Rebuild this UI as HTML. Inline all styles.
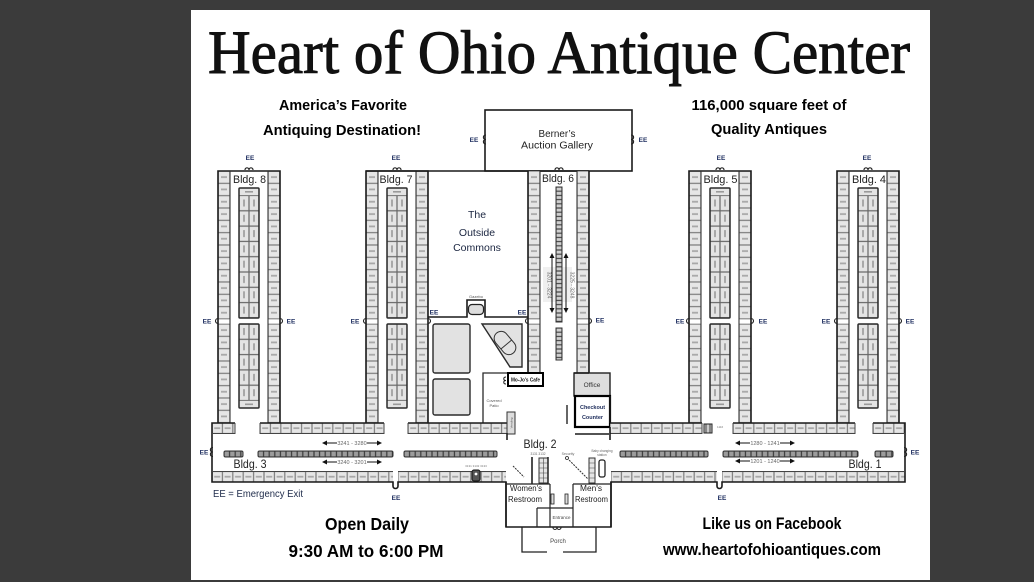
<!DOCTYPE html>
<html><head><meta charset="utf-8"><style>
html,body{margin:0;padding:0;background:#3b3b3b;width:1034px;height:582px;overflow:hidden}
svg{display:block}
</style></head><body>
<svg width="1034" height="582" viewBox="0 0 1034 582" xmlns="http://www.w3.org/2000/svg" font-family="Liberation Sans, Arial, sans-serif">
<defs>
 <pattern id="vc" width="12" height="12.33" patternUnits="userSpaceOnUse">
  <rect x="0.3" y="0.3" width="11.4" height="11.73" fill="#e6e6e6" stroke="#7a7a7a" stroke-width="0.6"/>
  <rect x="3" y="5.2" width="6" height="1.8" fill="#a8a8a8"/>
 </pattern>
 <pattern id="hc" width="10.4" height="10.5" patternUnits="userSpaceOnUse">
  <rect x="0.3" y="0.3" width="9.8" height="9.9" fill="#e6e6e6" stroke="#7a7a7a" stroke-width="0.6"/>
  <rect x="2.2" y="4.3" width="6" height="1.8" fill="#a8a8a8"/>
 </pattern>
 <pattern id="ip" width="20" height="15.3" patternUnits="userSpaceOnUse">
  <rect x="0.3" y="0.3" width="9.4" height="14.7" fill="#e4e4e4" stroke="#666" stroke-width="0.6"/>
  <rect x="10.3" y="0.3" width="9.4" height="14.7" fill="#e4e4e4" stroke="#666" stroke-width="0.6"/>
  <rect x="4.2" y="4" width="1.6" height="7" fill="#9a9a9a"/>
  <rect x="14.2" y="4" width="1.6" height="7" fill="#9a9a9a"/>
 </pattern>
 <pattern id="db" width="5.6" height="6" patternUnits="userSpaceOnUse">
  <rect x="0.3" y="0.3" width="5" height="5.4" fill="#9c9c9c" stroke="#3a3a3a" stroke-width="0.6"/>
 </pattern>
 <pattern id="sc" width="6" height="4.2" patternUnits="userSpaceOnUse">
  <rect x="0.3" y="0.3" width="5.4" height="3.6" fill="#d0d0d0" stroke="#444" stroke-width="0.6"/>
 </pattern>

 <g id="bt">
  <g transform="translate(0,171)"><rect width="12" height="148" fill="url(#vc)"/></g>
  <g transform="translate(50,171)"><rect width="12" height="148" fill="url(#vc)"/></g>
  <g transform="translate(0,324)"><rect width="12" height="99" fill="url(#vc)"/></g>
  <g transform="translate(50,324)"><rect width="12" height="99" fill="url(#vc)"/></g>
  <rect x="0" y="319" width="12" height="5" fill="#fff" stroke="#666" stroke-width="0.6"/>
  <rect x="50" y="319" width="12" height="5" fill="#fff" stroke="#666" stroke-width="0.6"/>
  <rect x="21" y="188" width="20" height="7.5" fill="#e4e4e4" stroke="#666" stroke-width="0.6"/>
  <rect x="27" y="191" width="8" height="1.6" fill="#9a9a9a"/>
  <g transform="translate(21,195.5)"><rect width="20" height="122.4" fill="url(#ip)"/></g>
  <rect x="21" y="188" width="20" height="130" fill="none" stroke="#2a2a2a" stroke-width="1.5" rx="1"/>
  <g transform="translate(21,324)"><rect width="20" height="76.5" fill="url(#ip)"/></g>
  <rect x="21" y="400.5" width="20" height="7.5" fill="#e4e4e4" stroke="#666" stroke-width="0.6"/>
  <rect x="27" y="403.5" width="8" height="1.6" fill="#9a9a9a"/>
  <rect x="21" y="324" width="20" height="84" fill="none" stroke="#2a2a2a" stroke-width="1.5" rx="1"/>
  <path d="M0,423 V171 H62 V423" fill="none" stroke="#1a1a1a" stroke-width="1.6"/>
  <path d="M12,171 V423 M50,171 V423" fill="none" stroke="#333" stroke-width="1.1"/>
  <path d="M27,170 a2,2.2 0 0 1 4,0 a2,2.2 0 0 1 4,0" fill="none" stroke="#222" stroke-width="1.2"/>
  <path d="M0,318.5 a2.5,2.5 0 0 0 0,5" fill="none" stroke="#222" stroke-width="1.1"/>
  <path d="M62,318.5 a2.5,2.5 0 0 1 0,5" fill="none" stroke="#222" stroke-width="1.1"/>
 </g>
</defs>

<rect x="0" y="0" width="1034" height="582" fill="#3b3b3b"/>
<rect x="191" y="10" width="739" height="570" fill="#ffffff"/>

<!-- Title -->
<text x="208" y="73" font-family="Liberation Serif, Times New Roman, serif" font-size="61" textLength="702" lengthAdjust="spacingAndGlyphs" fill="#111" stroke="#111" stroke-width="1">Heart of Ohio Antique Center</text>

<g font-weight="bold" fill="#000" text-anchor="middle">
 <text x="343" y="110" font-size="14.5" textLength="128" lengthAdjust="spacingAndGlyphs">America’s Favorite</text>
 <text x="342" y="135" font-size="14.5" textLength="158" lengthAdjust="spacingAndGlyphs">Antiquing Destination!</text>
 <text x="769" y="110" font-size="14.5" textLength="155" lengthAdjust="spacingAndGlyphs">116,000 square feet of</text>
 <text x="769" y="134" font-size="14.5" textLength="116" lengthAdjust="spacingAndGlyphs">Quality Antiques</text>
 <text x="367" y="530" font-size="17.5" textLength="84" lengthAdjust="spacingAndGlyphs">Open Daily</text>
 <text x="366" y="557" font-size="17.5" textLength="155" lengthAdjust="spacingAndGlyphs">9:30 AM to 6:00 PM</text>
 <text x="772" y="529" font-size="17" textLength="139" lengthAdjust="spacingAndGlyphs">Like us on Facebook</text>
 <text x="772" y="555" font-size="17" textLength="218" lengthAdjust="spacingAndGlyphs">www.heartofohioantiques.com</text>
</g>
<text x="213" y="497" font-size="10" textLength="90" lengthAdjust="spacingAndGlyphs" fill="#1e2b4a">EE = Emergency Exit</text>

<!-- Berner's -->
<rect x="485" y="110" width="147" height="61" fill="#fff" stroke="#1a1a1a" stroke-width="1.6"/>
<text x="557" y="137" font-size="10" text-anchor="middle" fill="#222" textLength="37" lengthAdjust="spacingAndGlyphs">Berner’s</text>
<text x="557" y="148.5" font-size="10" text-anchor="middle" fill="#222" textLength="72" lengthAdjust="spacingAndGlyphs">Auction Gallery</text>
<path d="M486,135 c-3.5,0 -3.5,4.5 0,4.5 c-3.5,0 -3.5,4.5 0,4.5" fill="none" stroke="#222" stroke-width="1.1"/>
<path d="M631,135 c3.5,0 3.5,4.5 0,4.5 c3.5,0 3.5,4.5 0,4.5" fill="none" stroke="#222" stroke-width="1.1"/>
<path d="M555,170 a2,2.2 0 0 1 4,0 a2,2.2 0 0 1 4,0" fill="none" stroke="#222" stroke-width="1.2"/>

<!-- Buildings 8,7,5,4 -->
<use href="#bt" x="218"/>
<use href="#bt" x="366"/>
<use href="#bt" x="689"/>
<use href="#bt" x="837"/>

<!-- long top wall across commons -->
<path d="M366,171 H589" stroke="#1a1a1a" stroke-width="1.6"/>

<!-- Bldg 6 -->
<g transform="translate(528,171)"><rect width="12" height="148" fill="url(#vc)"/></g>
<g transform="translate(577,171)"><rect width="12" height="148" fill="url(#vc)"/></g>
<g transform="translate(528,324)"><rect width="12" height="49" fill="url(#vc)"/></g>
<g transform="translate(577,324)"><rect width="12" height="49" fill="url(#vc)"/></g>
<rect x="528" y="319" width="12" height="5" fill="#fff" stroke="#666" stroke-width="0.6"/>
<rect x="577" y="319" width="12" height="5" fill="#fff" stroke="#666" stroke-width="0.6"/>
<path d="M528,373 V171 M589,171 V373" fill="none" stroke="#1a1a1a" stroke-width="1.6"/>
<path d="M540,171 V373 M577,171 V373" fill="none" stroke="#333" stroke-width="1.1"/>
<path d="M528,318.5 a2.5,2.5 0 0 0 0,5" fill="none" stroke="#222" stroke-width="1.1"/>
<path d="M589,318.5 a2.5,2.5 0 0 1 0,5" fill="none" stroke="#222" stroke-width="1.1"/>
<rect x="543" y="267" width="29" height="35" fill="#f0f0f0"/>
<g transform="translate(556,187)"><rect width="6" height="135" fill="url(#sc)"/></g>
<rect x="556" y="187" width="6" height="135" fill="none" stroke="#333" stroke-width="1"/>
<g transform="translate(556,328)"><rect width="6" height="32" fill="url(#sc)"/></g>
<rect x="556" y="328" width="6" height="32" fill="none" stroke="#333" stroke-width="1"/>
<path d="M552,257 V309 M566,257 V309" stroke="#111" stroke-width="1"/>
<polygon points="552,253 549.5,258 554.5,258" fill="#111"/>
<polygon points="552,313 549.5,308 554.5,308" fill="#111"/>
<polygon points="566,253 563.5,258 568.5,258" fill="#111"/>
<polygon points="566,313 563.5,308 568.5,308" fill="#111"/>
<text transform="translate(547.5,285) rotate(90)" font-size="5" text-anchor="middle" fill="#666">3201 - 3224</text>
<text transform="translate(570.5,285) rotate(90)" font-size="5" text-anchor="middle" fill="#666">3225 - 3248</text>

<!-- Bldg labels -->
<g font-size="11" fill="#222" text-anchor="middle">
 <text x="249.5" y="183" textLength="33" lengthAdjust="spacingAndGlyphs">Bldg. 8</text>
 <text x="396" y="183" textLength="33" lengthAdjust="spacingAndGlyphs">Bldg. 7</text>
 <text x="558" y="182" textLength="32" lengthAdjust="spacingAndGlyphs">Bldg. 6</text>
 <text x="720.5" y="183" textLength="34" lengthAdjust="spacingAndGlyphs">Bldg. 5</text>
 <text x="869" y="183" textLength="34" lengthAdjust="spacingAndGlyphs">Bldg. 4</text>
 <text x="250" y="468" font-size="12" textLength="33" lengthAdjust="spacingAndGlyphs">Bldg. 3</text>
 <text x="865" y="468" font-size="12" textLength="33" lengthAdjust="spacingAndGlyphs">Bldg. 1</text>
 <text x="540" y="448" font-size="12" textLength="33" lengthAdjust="spacingAndGlyphs">Bldg. 2</text>
</g>

<!-- Outside commons -->
<g font-size="10.5" fill="#1a2540" text-anchor="middle">
 <text x="477" y="218">The</text>
 <text x="477" y="236">Outside</text>
 <text x="477" y="251">Commons</text>
</g>
<path d="M428,317 H467 V300 H485 V317 H528" fill="none" stroke="#1a1a1a" stroke-width="1.6"/>
<rect x="468.5" y="304.5" width="15" height="10" rx="3.5" fill="#ddd" stroke="#222" stroke-width="1.2"/>
<text x="476" y="298" font-size="4" text-anchor="middle" fill="#555">Gazebo</text>
<rect x="433" y="324" width="37" height="49" rx="2" fill="#e2e2e2" stroke="#2a2a2a" stroke-width="1.4"/>
<rect x="433" y="379" width="37" height="36" rx="2" fill="#e2e2e2" stroke="#2a2a2a" stroke-width="1.4"/>
<polygon points="482,324 522,324 522,367 510,367" fill="#e2e2e2" stroke="#2a2a2a" stroke-width="1.4"/>
<g transform="translate(505,343) rotate(50)">
 <rect x="-13" y="-7" width="26" height="14" rx="7" fill="none" stroke="#333" stroke-width="1"/>
 <path d="M2,-7 V7" stroke="#333" stroke-width="1"/>
</g>
<path d="M483,423 V373 H508" fill="none" stroke="#2a2a2a" stroke-width="1.3"/>
<text x="494" y="402" font-size="4" text-anchor="middle" fill="#555">Covered</text>
<text x="494" y="407" font-size="4" text-anchor="middle" fill="#555">Patio</text>
<path d="M506,377 c-3,0 -3,3.5 0,3.5 c-3,0 -3,3.5 0,3.5" fill="none" stroke="#222" stroke-width="1"/>
<rect x="508" y="373" width="35" height="13" fill="#fff" stroke="#000" stroke-width="2"/>
<text x="525.5" y="381.5" font-size="5" font-weight="bold" text-anchor="middle" fill="#111" textLength="29" lengthAdjust="spacingAndGlyphs">Mo-Jo's Cafe</text>
<rect x="574" y="373" width="36" height="23" fill="#dedede" stroke="#222" stroke-width="1.4"/>
<text x="592" y="387" font-size="6.5" text-anchor="middle" fill="#333">Office</text>
<rect x="575" y="396" width="35" height="31" fill="#fff" stroke="#000" stroke-width="2.2"/>
<text x="592.5" y="409" font-size="5.5" font-weight="bold" text-anchor="middle" fill="#1c2b5a">Checkout</text>
<text x="592.5" y="419" font-size="5.5" font-weight="bold" text-anchor="middle" fill="#1c2b5a">Counter</text>
<path d="M589,373 H574 M610,396 V423" fill="none" stroke="#1a1a1a" stroke-width="1.4"/>

<!-- EE labels -->
<g font-size="6.5" font-weight="bold" fill="#1c2c5e" text-anchor="middle">
 <text x="250" y="160">EE</text>
 <text x="396" y="160">EE</text>
 <text x="721" y="160">EE</text>
 <text x="867" y="160">EE</text>
 <text x="474" y="142">EE</text>
 <text x="643" y="142">EE</text>
 <text x="207" y="323.5">EE</text>
 <text x="291" y="323.5">EE</text>
 <text x="355" y="323.5">EE</text>
 <text x="434" y="314.5">EE</text>
 <text x="522" y="314.5">EE</text>
 <text x="600" y="322.5">EE</text>
 <text x="680" y="323.5">EE</text>
 <text x="763" y="323.5">EE</text>
 <text x="826" y="323.5">EE</text>
 <text x="910" y="323.5">EE</text>
 <text x="204" y="454.5">EE</text>
 <text x="915" y="454.5">EE</text>
 <text x="396" y="500">EE</text>
 <text x="722" y="500">EE</text>
</g>

<!-- Hall rows Bldg 3 -->
<g transform="translate(212,423)"><rect width="23" height="10.5" fill="url(#hc)"/></g>
<g transform="translate(260,423)"><rect width="124" height="10.5" fill="url(#hc)"/></g>
<g transform="translate(408,423)"><rect width="99" height="10.5" fill="url(#hc)"/></g>
<g transform="translate(212,471.5)"><rect width="181" height="10.5" fill="url(#hc)"/></g>
<g transform="translate(398,471.5)"><rect width="108" height="10.5" fill="url(#hc)"/></g>
<!-- Hall rows Bldg 1 -->
<g transform="translate(610,423)"><rect width="92" height="10.5" fill="url(#hc)"/></g>
<g transform="translate(733,423)"><rect width="122" height="10.5" fill="url(#hc)"/></g>
<g transform="translate(873,423)"><rect width="32" height="10.5" fill="url(#hc)"/></g>
<g transform="translate(611,471.5)"><rect width="106" height="10.5" fill="url(#hc)"/></g>
<g transform="translate(722,471.5)"><rect width="183" height="10.5" fill="url(#hc)"/></g>

<!-- Hall walls -->
<path d="M235,423 H212 V482 H393 v4 a2.5,2.5 0 0 0 5,0 v-4 H506 V527 M260,423 H384 M408,423 H507" fill="none" stroke="#1a1a1a" stroke-width="1.6"/>
<path d="M611,527 V482 H717 v4 a2.5,2.5 0 0 0 5,0 v-4 H905 V423 H873 M855,423 H733 M702,423 H610" fill="none" stroke="#1a1a1a" stroke-width="1.6"/>
<path d="M212,433.5 H235 V423 M260,423 V433.5 H384 V423 M408,423 V433.5 H507 M212,471.5 H393 M398,471.5 H506 M610,433.5 H702 V423 M733,423 V433.5 H855 V423 M873,423 V433.5 H905 M611,471.5 H717 M722,471.5 H905" fill="none" stroke="#444" stroke-width="1"/>
<path d="M213,447.5 c-3.5,0 -3.5,4.5 0,4.5 c-3.5,0 -3.5,4.5 0,4.5" fill="none" stroke="#222" stroke-width="1.1"/>
<path d="M904,447.5 c3.5,0 3.5,4.5 0,4.5 c3.5,0 3.5,4.5 0,4.5" fill="none" stroke="#222" stroke-width="1.1"/>

<!-- center dark bars -->
<g transform="translate(224,451)"><rect width="19" height="6" fill="url(#db)"/></g>
<g transform="translate(258,451)"><rect width="135" height="6" fill="url(#db)"/></g>
<g transform="translate(404,451)"><rect width="93" height="6" fill="url(#db)"/></g>
<g transform="translate(620,451)"><rect width="88" height="6" fill="url(#db)"/></g>
<g transform="translate(723,451)"><rect width="135" height="6" fill="url(#db)"/></g>
<g transform="translate(875,451)"><rect width="18" height="6" fill="url(#db)"/></g>
<g fill="none" stroke="#333" stroke-width="1">
 <rect x="224" y="451" width="19" height="6" rx="1.5"/>
 <rect x="258" y="451" width="135" height="6" rx="1.5"/>
 <rect x="404" y="451" width="93" height="6" rx="1.5"/>
 <rect x="620" y="451" width="88" height="6" rx="1.5"/>
 <rect x="723" y="451" width="135" height="6" rx="1.5"/>
 <rect x="875" y="451" width="18" height="6" rx="1.5"/>
</g>

<!-- hallway arrows -->
<g stroke="#111" stroke-width="1">
 <path d="M325,443 H337 M367,443 H379 M325,462 H337 M367,462 H379"/>
 <path d="M738,443 H750 M780,443 H792 M738,461 H750 M780,461 H792"/>
</g>
<g fill="#111">
 <polygon points="322,443 327,440.5 327,445.5"/><polygon points="382,443 377,440.5 377,445.5"/>
 <polygon points="322,462 327,459.5 327,464.5"/><polygon points="382,462 377,459.5 377,464.5"/>
 <polygon points="735,443 740,440.5 740,445.5"/><polygon points="795,443 790,440.5 790,445.5"/>
 <polygon points="735,461 740,458.5 740,463.5"/><polygon points="795,461 790,458.5 790,463.5"/>
</g>
<g font-size="5.5" fill="#666" text-anchor="middle">
 <text x="352" y="445">3241 - 3280</text>
 <text x="352" y="464">3240 - 3201</text>
 <text x="765" y="445">1280 - 1241</text>
 <text x="765" y="463">1201 - 1240</text>
</g>

<!-- small fixtures -->
<rect x="704" y="424" width="8" height="9" fill="#ccc" stroke="#222" stroke-width="1"/>
<path d="M706,424 V433 M710,424 V433" stroke="#222" stroke-width="0.8"/>
<text x="717" y="428" font-size="3" fill="#777">1116</text>
<rect x="472" y="470" width="8" height="11" rx="2" fill="#555" stroke="#111" stroke-width="1"/>
<circle cx="476" cy="474" r="1.4" fill="#fff"/>
<text x="476" y="467" font-size="3" text-anchor="middle" fill="#777">3131 3132 3133</text>
<rect x="507" y="412" width="8" height="22" fill="#ddd" stroke="#333" stroke-width="1"/>
<text transform="translate(512.5,423) rotate(-90)" font-size="3" text-anchor="middle" fill="#555">Vending</text>
<path d="M507,433 V440" stroke="#222" stroke-width="1.6"/>
<path d="M567,405 V424" stroke="#333" stroke-width="1.5"/>
<path d="M575,434 H609 M610,427 V440" fill="none" stroke="#1a1a1a" stroke-width="1.6"/>

<!-- Bldg 2 restrooms -->
<path d="M506,482 V527 H611 V482" fill="none" stroke="#1a1a1a" stroke-width="1.5"/>
<path d="M506,484 H550 M573,484 H611 M550,484 V527 M573,484 V527 M537,508 H573 M537,508 V527" fill="none" stroke="#222" stroke-width="1.2"/>
<path d="M532,457 V484" stroke="#222" stroke-width="1.6"/>
<rect x="539" y="458" width="9" height="25" fill="#e4e4e4" stroke="#333" stroke-width="1"/>
<path d="M543.5,458 V483 M539,463 H548 M539,468 H548 M539,473 H548 M539,478 H548" stroke="#444" stroke-width="0.6"/>
<path d="M548,457 V484" stroke="#222" stroke-width="1.5"/>
<text x="538" y="455" font-size="3.2" text-anchor="middle" fill="#666">3131  3132</text>
<path d="M513,466 L524,477" stroke="#333" stroke-width="1" stroke-dasharray="2,1"/>
<rect x="589" y="458" width="6" height="25" fill="#e4e4e4" stroke="#333" stroke-width="1"/>
<path d="M589,463 H595 M589,468 H595 M589,473 H595 M589,478 H595" stroke="#444" stroke-width="0.6"/>
<rect x="599" y="460" width="6" height="17" rx="2" fill="#fff" stroke="#222" stroke-width="1.3"/>
<path d="M567,458 L588,479" stroke="#333" stroke-width="1" stroke-dasharray="2,1"/>
<circle cx="567" cy="458" r="1.5" fill="#fff" stroke="#222" stroke-width="0.8"/>
<text x="568" y="455" font-size="3.5" text-anchor="middle" fill="#666">Security</text>
<text x="602" y="452" font-size="3.2" text-anchor="middle" fill="#666">Baby changing</text>
<text x="602" y="456" font-size="3.2" text-anchor="middle" fill="#666">station</text>
<rect x="551" y="494" width="3" height="10" fill="#ddd" stroke="#222" stroke-width="0.8"/>
<rect x="565" y="494" width="3" height="10" fill="#ddd" stroke="#222" stroke-width="0.8"/>
<g font-size="8" fill="#222" text-anchor="middle">
 <text x="526" y="491" textLength="32" lengthAdjust="spacingAndGlyphs">Women's</text>
 <text x="525" y="502" textLength="34" lengthAdjust="spacingAndGlyphs">Restroom</text>
 <text x="591" y="491" textLength="22" lengthAdjust="spacingAndGlyphs">Men's</text>
 <text x="591.5" y="502" textLength="33" lengthAdjust="spacingAndGlyphs">Restroom</text>
</g>
<text x="561.5" y="519" font-size="4.5" text-anchor="middle" fill="#444">Entrance</text>
<path d="M553,527.5 a2,2 0 0 0 4,0 a2,2 0 0 0 4,0" fill="none" stroke="#222" stroke-width="1.1"/>
<path d="M522,527 V552 H547 M563,552 H596 V527" fill="none" stroke="#222" stroke-width="1.3"/>
<text x="558" y="543" font-size="6" text-anchor="middle" fill="#444">Porch</text>
</svg>
</body></html>
